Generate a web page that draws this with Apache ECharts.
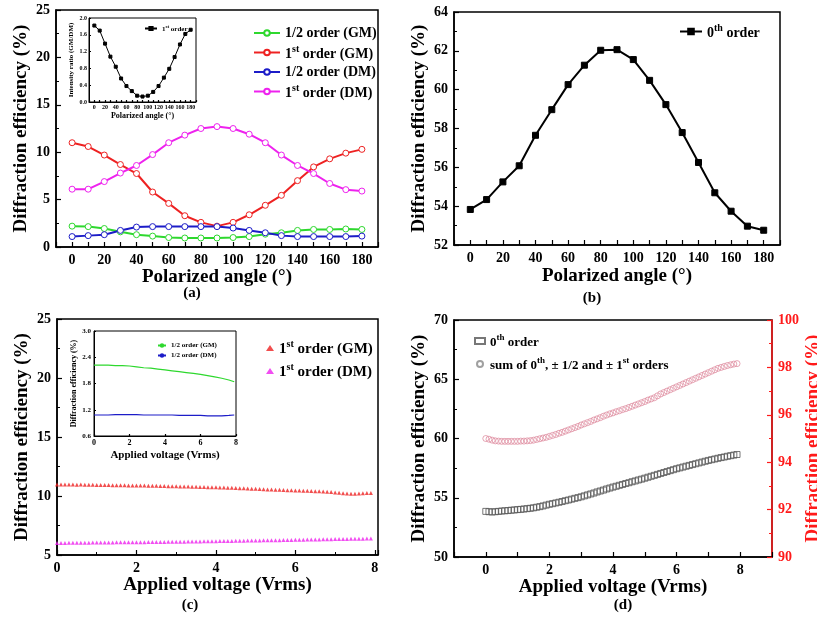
<!DOCTYPE html>
<html>
<head>
<meta charset="utf-8">
<script src="https://cdn.jsdelivr.net/npm/echarts@6/dist/echarts.min.js"></script>
<style>
  html, body { margin: 0; padding: 0; background: #fff; }
  #chart { width: 817px; height: 617px; }
</style>
</head>
<body>
<div id="chart"></div>
<script>
const SERIF = "'Liberation Serif', 'DejaVu Serif', serif";

// (a) polarized angle sweep
const angles = [0, 10, 20, 30, 40, 50, 60, 70, 80, 90, 100, 110, 120, 130, 140, 150, 160, 170, 180];
const halfGM = [2.2, 2.15, 1.95, 1.6, 1.3, 1.15, 1.0, 0.95, 0.95, 0.95, 1.0, 1.1, 1.35, 1.5, 1.75, 1.85, 1.85, 1.9, 1.85];
const firstGM = [11.0, 10.6, 9.7, 8.7, 7.75, 5.8, 4.6, 3.3, 2.6, 2.2, 2.6, 3.4, 4.4, 5.45, 7.0, 8.45, 9.3, 9.9, 10.3];
const halfDM = [1.1, 1.2, 1.3, 1.75, 2.1, 2.15, 2.15, 2.15, 2.15, 2.15, 2.0, 1.75, 1.5, 1.2, 1.1, 1.1, 1.1, 1.1, 1.15];
const firstDM = [6.1, 6.1, 6.9, 7.8, 8.6, 9.75, 11.0, 11.8, 12.5, 12.7, 12.5, 11.9, 11.0, 9.7, 8.6, 7.75, 6.7, 6.05, 5.9];
// inset of (a): intensity ratio GM/DM
const ratio = [1.82, 1.70, 1.39, 1.08, 0.84, 0.56, 0.38, 0.26, 0.15, 0.13, 0.15, 0.24, 0.38, 0.58, 0.79, 1.07, 1.37, 1.62, 1.72];

// (b) 0th order
const zeroOrder = [53.83, 54.34, 55.25, 56.08, 57.65, 58.97, 60.26, 61.26, 62.03, 62.06, 61.55, 60.48, 59.23, 57.79, 56.25, 54.69, 53.74, 52.97, 52.76];

// (c) and (d) applied voltage sweep
const volts = [
  0.0, 0.1, 0.2, 0.3, 0.4, 0.5, 0.6, 0.7, 0.8, 0.9,
  1.0, 1.1, 1.2, 1.3, 1.4, 1.5, 1.6, 1.7, 1.8, 1.9,
  2.0, 2.1, 2.2, 2.3, 2.4, 2.5, 2.6, 2.7, 2.8, 2.9,
  3.0, 3.1, 3.2, 3.3, 3.4, 3.5, 3.6, 3.7, 3.8, 3.9,
  4.0, 4.1, 4.2, 4.3, 4.4, 4.5, 4.6, 4.7, 4.8, 4.9,
  5.0, 5.1, 5.2, 5.3, 5.4, 5.5, 5.6, 5.7, 5.8, 5.9,
  6.0, 6.1, 6.2, 6.3, 6.4, 6.5, 6.6, 6.7, 6.8, 6.9,
  7.0, 7.1, 7.2, 7.3, 7.4, 7.5, 7.6, 7.7, 7.8, 7.9
];
const firstGMv = [
  10.98, 10.98, 10.97, 10.98, 10.97, 10.96, 10.97, 10.96, 10.95, 10.95,
  10.94, 10.94, 10.93, 10.93, 10.92, 10.92, 10.91, 10.91, 10.90, 10.90,
  10.89, 10.88, 10.88, 10.87, 10.86, 10.86, 10.85, 10.84, 10.83, 10.83,
  10.82, 10.81, 10.80, 10.80, 10.79, 10.78, 10.77, 10.76, 10.75, 10.74,
  10.74, 10.73, 10.71, 10.70, 10.69, 10.67, 10.66, 10.65, 10.63, 10.62,
  10.61, 10.59, 10.58, 10.56, 10.55, 10.54, 10.52, 10.51, 10.49, 10.48,
  10.47, 10.46, 10.45, 10.44, 10.42, 10.41, 10.40, 10.38, 10.35, 10.33,
  10.30, 10.27, 10.24, 10.21, 10.20, 10.20, 10.21, 10.23, 10.25, 10.26
];
const firstDMv = [
  6.02, 6.02, 6.02, 6.03, 6.03, 6.03, 6.04, 6.04, 6.04, 6.05,
  6.05, 6.05, 6.06, 6.06, 6.06, 6.07, 6.07, 6.07, 6.08, 6.08,
  6.08, 6.09, 6.09, 6.10, 6.10, 6.10, 6.11, 6.11, 6.12, 6.12,
  6.12, 6.13, 6.13, 6.14, 6.14, 6.15, 6.15, 6.16, 6.16, 6.17,
  6.17, 6.18, 6.18, 6.19, 6.19, 6.20, 6.21, 6.21, 6.22, 6.22,
  6.23, 6.23, 6.24, 6.25, 6.25, 6.26, 6.26, 6.27, 6.28, 6.28,
  6.29, 6.29, 6.30, 6.31, 6.31, 6.32, 6.32, 6.33, 6.34, 6.34,
  6.35, 6.35, 6.36, 6.36, 6.37, 6.37, 6.38, 6.38, 6.39, 6.39
];
// inset of (c): 1/2 orders
const insetVolts = [0, 0.4, 0.8, 1.2, 1.6, 2.0, 2.4, 2.8, 3.2, 3.6, 4.0, 4.4, 4.8, 5.2, 5.6, 6.0, 6.4, 6.8, 7.2, 7.6, 7.9];
const halfGMv = [2.22, 2.22, 2.22, 2.21, 2.21, 2.20, 2.18, 2.16, 2.15, 2.13, 2.11, 2.09, 2.07, 2.05, 2.03, 2.01, 1.98, 1.95, 1.92, 1.88, 1.84];
const halfDMv = [1.08, 1.08, 1.08, 1.09, 1.09, 1.09, 1.09, 1.08, 1.08, 1.08, 1.08, 1.08, 1.07, 1.07, 1.07, 1.07, 1.06, 1.06, 1.06, 1.07, 1.08];

// (d) 0th order and total
const zeroV = [
  53.85, 53.82, 53.80, 53.82, 53.85, 53.88, 53.90, 53.92, 53.95, 53.97,
  54.00, 54.02, 54.05, 54.08, 54.11, 54.15, 54.20, 54.25, 54.31, 54.38,
  54.45, 54.50, 54.56, 54.62, 54.68, 54.75, 54.81, 54.88, 54.95, 55.01,
  55.08, 55.16, 55.24, 55.32, 55.40, 55.49, 55.57, 55.65, 55.74, 55.82,
  55.90, 55.97, 56.05, 56.12, 56.20, 56.27, 56.35, 56.42, 56.50, 56.57,
  56.65, 56.73, 56.81, 56.89, 56.97, 57.05, 57.13, 57.21, 57.29, 57.37,
  57.45, 57.52, 57.59, 57.66, 57.73, 57.80, 57.87, 57.94, 58.01, 58.08,
  58.15, 58.21, 58.27, 58.33, 58.39, 58.44, 58.50, 58.55, 58.60, 58.65
];
const sumV = [
  95.00, 94.97, 94.93, 94.90, 94.89, 94.88, 94.88, 94.88, 94.88, 94.88,
  94.88, 94.89, 94.89, 94.90, 94.91, 94.93, 94.96, 94.99, 95.02, 95.05,
  95.09, 95.13, 95.17, 95.22, 95.26, 95.31, 95.36, 95.41, 95.46, 95.51,
  95.57, 95.62, 95.67, 95.72, 95.78, 95.83, 95.88, 95.94, 95.99, 96.04,
  96.08, 96.13, 96.17, 96.22, 96.26, 96.31, 96.36, 96.41, 96.46, 96.51,
  96.56, 96.62, 96.67, 96.72, 96.80, 96.88, 96.94, 97.00, 97.06, 97.12,
  97.18, 97.24, 97.30, 97.36, 97.42, 97.48, 97.54, 97.60, 97.66, 97.72,
  97.78, 97.84, 97.90, 97.96, 98.00, 98.04, 98.08, 98.11, 98.14, 98.16
];

const GREEN = '#2ed82e', RED = '#ee2222', BLUE = '#1c1cc8', MAGENTA = '#ee22ee';

function pairs(xs, ys) { return xs.map((x, i) => [x, ys[i]]); }

function merge(a, b) {
  const out = Object.assign({}, a);
  for (const k in b) {
    if (b[k] && typeof b[k] === 'object' && !Array.isArray(b[k]) && a[k] && typeof a[k] === 'object') {
      out[k] = merge(a[k], b[k]);
    } else {
      out[k] = b[k];
    }
  }
  return out;
}

function axis(opts, fs) {
  fs = fs || 14;
  return merge({
    type: 'value',
    axisLine: { show: true, onZero: false, lineStyle: { color: '#000', width: 1.5 } },
    axisTick: { show: true, inside: true, length: 5, lineStyle: { color: '#000', width: 1.2 } },
    minorTick: { show: false },
    axisLabel: { color: '#000', fontFamily: SERIF, fontWeight: 'bold', fontSize: fs, margin: 6 },
    splitLine: { show: false },
    nameLocation: 'middle',
    nameTextStyle: { color: '#000', fontFamily: SERIF, fontWeight: 'bold', fontSize: 19 }
  }, opts);
}

function rich(fs) {
  return {
    b: { fontFamily: SERIF, fontWeight: 'bold', fontSize: fs, color: '#000', verticalAlign: 'bottom' },
    s: { fontFamily: SERIF, fontWeight: 'bold', fontSize: Math.round(fs * 0.68), color: '#000', verticalAlign: 'bottom', padding: [0, 0, Math.round(fs * 0.5), 0] }
  };
}

const labels = {
  aHalfGM: '{b|1/2 order (GM)}',
  aFirstGM: '{b|1}{s|st}{b| order (GM)}',
  aHalfDM: '{b|1/2 order (DM)}',
  aFirstDM: '{b|1}{s|st}{b| order (DM)}',
  ratio: '{b|1}{s|st}{b| order}',
  zero: '{b|0}{s|th}{b| order}',
  cFirstGM: '{b|1}{s|st}{b| order (GM)}',
  cFirstDM: '{b|1}{s|st}{b| order (DM)}',
  cHalfGM: '{b|1/2 order (GM)}',
  cHalfDM: '{b|1/2 order (DM)}',
  dZero: '{b|0}{s|th}{b| order}',
  dSum: '{b|sum of 0}{s|th}{b|, ± 1/2 and ± 1}{s|st}{b| orders}'
};

function legend(names, left, top, fs, gap, extra) {
  return merge({
    data: names,
    left: left, top: top, orient: 'vertical',
    itemWidth: 26, itemHeight: 7, itemGap: gap,
    formatter: n => labels[n],
    textStyle: { fontSize: fs, fontFamily: SERIF, fontWeight: 'bold', color: '#000', rich: rich(fs) }
  }, extra || {});
}

function lineSeries(name, xi, yi, data, color, symbol, size, filled) {
  return {
    name: name, type: 'line', xAxisIndex: xi, yAxisIndex: yi, data: data,
    symbol: symbol, symbolSize: size,
    lineStyle: { color: color, width: 2 },
    itemStyle: { color: filled ? color : '#fff', borderColor: color, borderWidth: 1 },
    emphasis: { disabled: true }
  };
}

const frame = {
  show: true, borderColor: '#000', borderWidth: 1.5, backgroundColor: 'transparent',
  containLabel: false, outerBoundsMode: 'none'
};

const even20 = v => (v >= 0 && v <= 180 && v % 20 === 0) ? String(v) : '';
const evenV = v => (v >= 0 && v <= 8 && Math.round(v) % 2 === 0) ? String(Math.round(v)) : '';
const oneDec = v => v.toFixed(1);

const option = {
  animation: false,
  backgroundColor: '#fff',
  grid: [
    merge(frame, { left: 56, top: 10, width: 322, height: 237 }),               // a
    merge(frame, { left: 89, top: 18, width: 107, height: 84, borderWidth: 1 }), // a inset
    merge(frame, { left: 454, top: 12, width: 326, height: 233 }),              // b
    merge(frame, { left: 57, top: 319, width: 321, height: 236 }),              // c
    merge(frame, { left: 94, top: 331, width: 142, height: 105, borderWidth: 1 }), // c inset
    merge(frame, { left: 454, top: 320, width: 318, height: 237 })              // d
  ],
  xAxis: [
    axis({ gridIndex: 0, min: -10, max: 190, interval: 10, axisLabel: { formatter: even20 },
      name: 'Polarized angle (°)', nameGap: 15 }),
    axis({ gridIndex: 1, min: -10, max: 190, interval: 10, axisLine: { lineStyle: { width: 1 } },
      axisTick: { length: 2 }, axisLabel: { formatter: even20, fontSize: 6, margin: 2 },
      name: 'Polarized angle (°)', nameGap: 10, nameTextStyle: { fontSize: 8 } }),
    axis({ gridIndex: 2, min: -10, max: 190, interval: 10, axisLabel: { formatter: even20 },
      name: 'Polarized angle (°)', nameGap: 22 }),
    axis({ gridIndex: 3, min: 0, max: 8.08, interval: 2, axisLabel: { formatter: evenV },
      minorTick: { show: true, splitNumber: 2, length: 3, lineStyle: { color: '#000' } },
      name: 'Applied voltage (Vrms)', nameGap: 19 }),
    axis({ gridIndex: 4, min: 0, max: 8, interval: 2, axisLine: { lineStyle: { width: 1 } },
      axisTick: { length: 2 }, axisLabel: { fontSize: 8, margin: 3 },
      name: 'Applied voltage (Vrms)', nameGap: 14, nameTextStyle: { fontSize: 11 } }),
    axis({ gridIndex: 5, min: -1, max: 9, interval: 1, axisLabel: { formatter: evenV },
      name: 'Applied voltage (Vrms)', nameGap: 17 })
  ],
  yAxis: [
    axis({ gridIndex: 0, min: 0, max: 25, interval: 5,
      minorTick: { show: true, splitNumber: 2, length: 3, lineStyle: { color: '#000' } },
      name: 'Diffraction efficiency (%)', nameGap: 25 }),
    axis({ gridIndex: 1, min: 0, max: 2, interval: 0.4, axisLine: { lineStyle: { width: 1 } },
      axisTick: { length: 2 }, axisLabel: { formatter: oneDec, fontSize: 6, margin: 2 },
      name: 'Intensity ratio (GM/DM)', nameGap: 14, nameTextStyle: { fontSize: 7 } }),
    axis({ gridIndex: 2, min: 52, max: 64, interval: 2,
      minorTick: { show: true, splitNumber: 2, length: 3, lineStyle: { color: '#000' } },
      name: 'Diffraction efficiency (%)', nameGap: 25 }),
    axis({ gridIndex: 3, min: 5, max: 25, interval: 5,
      minorTick: { show: true, splitNumber: 2, length: 3, lineStyle: { color: '#000' } },
      name: 'Diffraction efficiency (%)', nameGap: 25 }),
    axis({ gridIndex: 4, min: 0.6, max: 3.0, interval: 0.6, axisLine: { lineStyle: { width: 1 } },
      axisTick: { length: 2 }, axisLabel: { formatter: oneDec, fontSize: 7, margin: 3 },
      name: 'Diffraction efficiency (%)', nameGap: 16, nameTextStyle: { fontSize: 8 } }),
    axis({ gridIndex: 5, min: 50, max: 70, interval: 5,
      minorTick: { show: true, splitNumber: 2, length: 3, lineStyle: { color: '#000' } },
      name: 'Diffraction efficiency (%)', nameGap: 25 }),
    axis({ gridIndex: 5, position: 'right', min: 90, max: 100, interval: 2,
      axisLine: { lineStyle: { color: '#ff1a1a', width: 1.5 } },
      axisTick: { lineStyle: { color: '#ff1a1a' } },
      minorTick: { show: true, splitNumber: 2, length: 3, lineStyle: { color: '#ff1a1a' } },
      axisLabel: { color: '#ff1a1a' },
      name: 'Diffraction efficiency (%)', nameGap: 32, nameRotate: 90,
      nameTextStyle: { color: '#ff1a1a' } })
  ],
  legend: [
    legend(['aHalfGM', 'aFirstGM', 'aHalfDM', 'aFirstDM'], 248, 21, 14, 4),
    legend(['ratio'], 139, 19, 7, 2, { itemWidth: 12, itemHeight: 4 }),
    legend(['zero'], 674, 18, 14, 4, { itemWidth: 22 }),
    legend(['cFirstGM', 'cFirstDM'], 261, 334, 15, 5, { itemWidth: 8, itemHeight: 6 }),
    legend(['cHalfGM', 'cHalfDM'], 152, 337, 7, 3, { itemWidth: 8, itemHeight: 3 }),
    legend([{ name: 'dZero' }, { name: 'dSum', itemStyle: { borderColor: '#888' } }], 469, 328, 13, 7,
      { itemWidth: 10, itemHeight: 6 })
  ],
  graphic: [
    { type: 'text', x: 192, y: 293, style: { text: '(a)', font: 'bold 15px ' + SERIF, fill: '#000', align: 'center', verticalAlign: 'middle' } },
    { type: 'text', x: 592, y: 298, style: { text: '(b)', font: 'bold 15px ' + SERIF, fill: '#000', align: 'center', verticalAlign: 'middle' } },
    { type: 'text', x: 190, y: 605, style: { text: '(c)', font: 'bold 15px ' + SERIF, fill: '#000', align: 'center', verticalAlign: 'middle' } },
    { type: 'text', x: 623, y: 605, style: { text: '(d)', font: 'bold 15px ' + SERIF, fill: '#000', align: 'center', verticalAlign: 'middle' } }
  ],
  series: [
    lineSeries('aHalfGM', 0, 0, pairs(angles, halfGM), GREEN, 'circle', 6, false),
    lineSeries('aFirstGM', 0, 0, pairs(angles, firstGM), RED, 'circle', 6, false),
    lineSeries('aHalfDM', 0, 0, pairs(angles, halfDM), BLUE, 'circle', 6, false),
    lineSeries('aFirstDM', 0, 0, pairs(angles, firstDM), MAGENTA, 'circle', 6, false),
    merge(lineSeries('ratio', 1, 1, pairs(angles, ratio), '#000', 'rect', 3, true), { lineStyle: { width: 1 } }),
    lineSeries('zero', 2, 2, pairs(angles, zeroOrder), '#000', 'rect', 6, true),
    {
      name: 'cFirstGM', type: 'scatter', xAxisIndex: 3, yAxisIndex: 3, data: pairs(volts, firstGMv),
      symbol: 'triangle', symbolSize: 4, itemStyle: { color: RED }, emphasis: { disabled: true }
    },
    {
      name: 'cFirstDM', type: 'scatter', xAxisIndex: 3, yAxisIndex: 3, data: pairs(volts, firstDMv),
      symbol: 'triangle', symbolSize: 4, itemStyle: { color: MAGENTA }, emphasis: { disabled: true }
    },
    merge(lineSeries('cHalfGM', 4, 4, pairs(insetVolts, halfGMv), GREEN, 'none', 0, true), { lineStyle: { width: 1.2 } }),
    merge(lineSeries('cHalfDM', 4, 4, pairs(insetVolts, halfDMv), BLUE, 'none', 0, true), { lineStyle: { width: 1.2 } }),
    {
      name: 'dSum', type: 'scatter', xAxisIndex: 5, yAxisIndex: 6, data: pairs(volts, sumV),
      symbol: 'circle', symbolSize: 6,
      itemStyle: { color: 'rgba(255,255,255,0)', borderColor: '#e090a2', borderWidth: 1 }, emphasis: { disabled: true }
    },
    {
      name: 'dZero', type: 'scatter', xAxisIndex: 5, yAxisIndex: 5, data: pairs(volts, zeroV),
      symbol: 'rect', symbolSize: 6,
      itemStyle: { color: 'rgba(255,255,255,0)', borderColor: '#555', borderWidth: 1 }, emphasis: { disabled: true }
    }
  ]
};

const chart = echarts.init(document.getElementById('chart'), null, { renderer: 'canvas' });
chart.setOption(option);
</script>
</body>
</html>
